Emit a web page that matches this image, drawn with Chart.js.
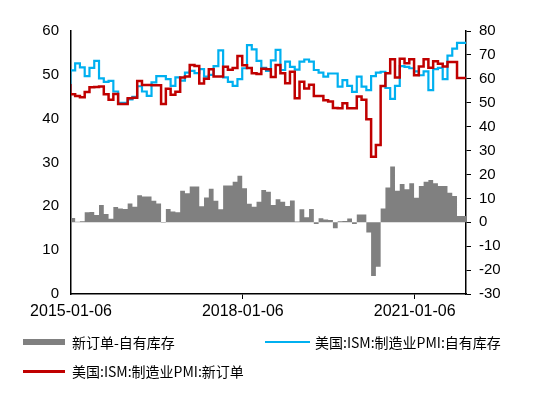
<!DOCTYPE html>
<html><head><meta charset="utf-8">
<script src="https://cdn.jsdelivr.net/npm/chart.js@4/dist/chart.umd.min.js"></script>
<style>
html,body{margin:0;padding:0;background:#fff;width:550px;height:393px;overflow:hidden}
#wrap{position:relative;width:550px;height:393px}
#c{position:absolute;left:0;top:0}
.lt{position:absolute;font-family:"Noto Sans CJK SC","Noto Sans",sans-serif;font-size:14px;line-height:16px;color:#000;white-space:nowrap}
.sw{position:absolute}
</style>
</head><body>
<div id="wrap">
<canvas id="c" width="550" height="393"></canvas>
<div class="sw" style="left:23px;top:339px;width:42px;height:6px;background:#808080"></div>
<div class="lt" style="left:72px;top:334px">新订单-自有库存</div>
<div class="sw" style="left:265px;top:341px;width:45px;height:2px;background:#00B0F0"></div>
<div class="lt" style="left:315px;top:334px">美国:ISM:制造业PMI:自有库存</div>
<div class="sw" style="left:23px;top:370px;width:42px;height:2.5px;background:#C00000"></div>
<div class="lt" style="left:72px;top:363px">美国:ISM:制造业PMI:新订单</div>
</div>
<script>
// monthly values, first = Dec 2014 release (in effect from early Jan 2015), last = Oct 2021
const newOrders = [57.8,53.5,52.8,52.3,54.5,56.5,56.6,56.8,53.5,51.2,53.7,49.5,49.5,
  51.9,52.1,59.1,57.4,57.4,57.3,57.3,49.5,55.8,53.3,54.6,60.6,
  61.0,65.8,65.4,58.0,60.0,64.0,61.0,61.0,65.0,63.8,64.5,69.5,
  65.7,64.5,62.3,62.0,64.2,64.0,60.8,65.8,62.3,58.1,63.0,51.9,
  58.8,56.0,57.5,52.8,52.8,51.0,50.5,47.8,47.7,49.8,47.7,47.7,
  52.6,51.2,43.1,27.4,32.3,57.0,62.3,68.2,60.5,68.4,66.5,68.2,
  61.5,65.2,68.2,64.6,67.3,66.3,65.2,67.0,67.0,60.3];
const inventories = [45.5,51.0,52.6,51.7,49.7,51.6,53.2,49.2,48.4,48.6,46.2,43.6,43.6,
  44.4,45.0,47.4,46.2,45.2,48.3,49.7,49.7,49.0,47.5,49.4,48.7,
  50.5,50.9,50.4,51.3,49.6,50.0,52.0,55.6,49.4,48.4,47.5,49.0,
  51.5,56.8,55.8,53.2,51.6,50.9,53.3,55.7,51.1,53.0,51.8,51.2,
  53.0,53.5,53.0,51.1,50.5,49.6,50.3,50.3,47.3,48.8,47.5,46.1,
  49.6,47.3,46.5,49.7,50.5,50.7,47.0,44.5,47.5,52.0,51.8,51.5,
  50.8,49.9,50.8,46.5,51.3,51.6,49.0,54.4,56.0,57.3];
const spread = [12.3,1.8,0.2,0.4,4.2,4.3,3.0,7.2,3.5,1.5,6.4,5.8,5.5,
  7.8,6.5,11.3,10.8,10.8,9.0,7.8,-0.2,5.6,4.5,4.2,13.2,
  12.1,15.0,15.0,6.7,10.4,14.0,9.0,5.4,15.4,15.4,17.0,19.5,
  14.2,7.7,6.5,8.6,13.5,12.8,7.2,9.6,8.6,6.8,9.1,0.3,
  5.4,2.1,5.6,-0.7,1.7,1.2,1.0,-2.5,0.4,0.5,1.6,-0.7,
  3.3,3.3,-4.3,-22.5,-18.6,5.8,14.5,23.3,13.2,16.0,13.8,16.3,
  10.3,15.2,17.0,17.7,16.3,15.2,15.2,12.4,11.0,2.6];
const tickMonths = [0, 36, 72];
const tickLabels = ['2015-01-06', '2018-01-06', '2021-01-06'];
const RELEASE_LAG = -0.13;   // release date relative to the 6th, in months
const X_END = 82.75;         // axis end, months after 2015-01-06

function toPoints(arr) {
  const pts = arr.map((v, i) => ({x: i + RELEASE_LAG, y: v}));
  pts.push({x: X_END, y: arr[arr.length - 1]});
  return pts;
}

const tickFont = {family: '"Liberation Sans", Arial, sans-serif', size: 15};
const xFont = {family: '"Liberation Sans", Arial, sans-serif', size: 16};

new Chart(document.getElementById('c'), {
  type: 'line',
  data: {
    datasets: [
      {label: '美国:ISM:制造业PMI:新订单', data: toPoints(newOrders), yAxisID: 'y2',
       borderColor: '#C00000', borderWidth: 2.5, stepped: 'after', pointRadius: 0, fill: false, order: 0},
      {label: '美国:ISM:制造业PMI:自有库存', data: toPoints(inventories), yAxisID: 'y',
       borderColor: '#00B0F0', borderWidth: 2.2, stepped: 'after', pointRadius: 0, fill: false, order: 1},
      {label: '新订单-自有库存', data: toPoints(spread), yAxisID: 'y2',
       borderColor: 'rgba(0,0,0,0)', borderWidth: 0, backgroundColor: '#808080',
       stepped: 'after', pointRadius: 0, fill: 'origin', order: 2}
    ]
  },
  options: {
    responsive: false, animation: false, devicePixelRatio: 1,
    layout: {padding: {top: 31, left: 0, right: 0, bottom: 0}},
    plugins: {legend: {display: false}, tooltip: {enabled: false}},
    scales: {
      x: {
        type: 'linear', min: 0, max: X_END,
        afterBuildTicks: s => { s.ticks = tickMonths.map(v => ({value: v})); },
        afterFit: s => { s.height = 99; },
        ticks: {autoSkip: false, maxRotation: 0, color: '#000', font: xFont, padding: 3,
                callback: v => tickLabels[tickMonths.indexOf(v)]},
        grid: {drawOnChartArea: false, drawTicks: true, tickLength: 5,
               tickColor: c => c.index === 0 ? 'rgba(0,0,0,0)' : '#000', color: '#000'},
        border: {display: true, color: '#000', width: 1.5}
      },
      y: {
        position: 'left', min: 0, max: 60,
        afterFit: s => { s.width = 71; },
        ticks: {stepSize: 10, color: '#000', font: tickFont, padding: 12},
        grid: {display: false, drawTicks: false},
        border: {display: true, color: '#000', width: 1.5}
      },
      y2: {
        position: 'right', min: -30, max: 80,
        afterFit: s => { s.width = 84; },
        ticks: {stepSize: 10, color: '#000', font: tickFont, padding: 8},
        grid: {drawOnChartArea: false, drawTicks: true, tickLength: 5, color: '#000', tickColor: '#000'},
        border: {display: true, color: '#000', width: 1.5}
      }
    }
  }
});
</script>
</body></html>
